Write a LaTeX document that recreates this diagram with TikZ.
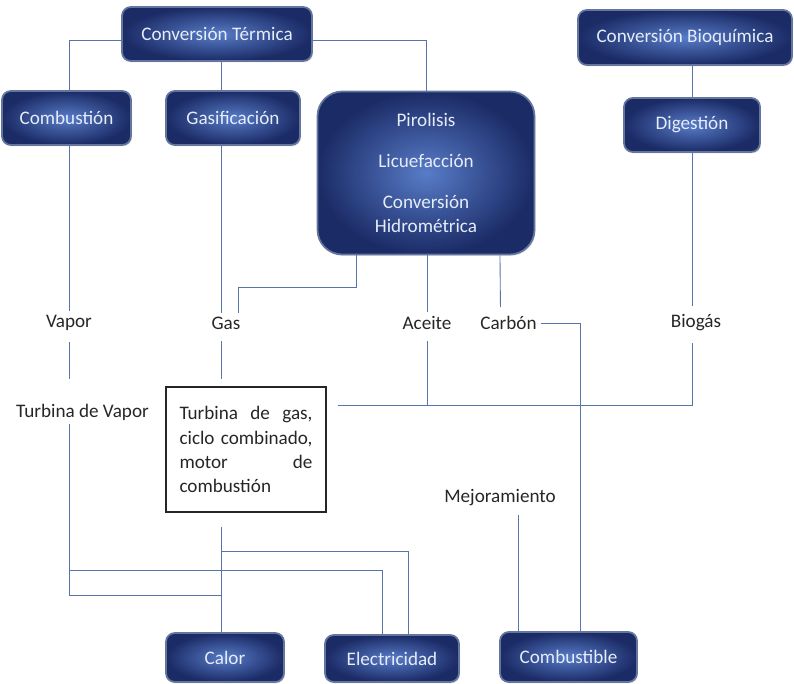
\documentclass[tikz,border=0pt]{standalone}
\usepackage{fontspec}
\setmainfont{Carlito}
\usetikzlibrary{positioning, shadows}

\definecolor{boxdark}{RGB}{27,43,102}
\definecolor{boxlight}{RGB}{88,124,200}
\definecolor{boxrim}{RGB}{100,118,158}
\definecolor{linkblue}{RGB}{88,116,170}
\definecolor{boxtext}{RGB}{230,236,248}

\tikzset{
    proc/.style={draw=boxrim, line width=1pt, rounded corners=5pt,
        shading=radial, inner color=boxlight, outer color=boxdark,
        text=boxtext, align=center,
        drop shadow={shadow xshift=0.6pt, shadow yshift=-0.8pt, opacity=0.2}},
    flow/.style={inner sep=2pt, text=black!85},
    link/.style={draw=linkblue, line width=0.5pt},
}

\begin{document}
\begin{tikzpicture}[x=0.02cm, y=-0.02cm, font=\fontsize{10.9}{13.7}\selectfont]
    \useasboundingbox (0,0) rectangle (794,683);

    % conversion boxes
    \node[proc, minimum width=3.8cm, minimum height=1.08cm] (termica) at (217,34) {Conversión Térmica};
    \node[proc, minimum width=2.58cm, minimum height=1.08cm] (combustion) at (66.5,118) {Combustión};
    \node[proc, minimum width=2.68cm, minimum height=1.08cm] (gasificacion) at (233,118) {Gasificación};
    \node[proc, minimum width=4.34cm, minimum height=3.26cm, rounded corners=14pt] (pirolisis) at (426,173)
        {Pirolisis\\[9.5pt]Licuefacción\\[9.5pt]Conversión\\Hidrométrica};
    \node[proc, minimum width=4.28cm, minimum height=1.1cm] (bioquimica) at (685,37.5) {Conversión Bioquímica};
    \node[proc, minimum width=2.72cm, minimum height=1.08cm] (digestion) at (692,125) {Digestión};

    % products
    \node[flow] (vapor) at (69,323) {Vapor};
    \node[flow] (gas) at (226,323) {Gas};
    \node[flow] (aceite) at (427,323) {Aceite};
    \node[flow] (carbon) at (508.5,323) {Carbón};
    \node[flow] (biogas) at (696,323) {Biogás};

    \node[flow] (tvapor) at (82.5,412) {Turbina de Vapor};
    \node[draw=black!85, line width=0.6pt, minimum width=3.2cm, minimum height=2.5cm,
        text width=2.66cm, align=left, text=black!85] (tgas) at (246,449.5)
        {Turbina\hfill de\hfill gas,\\ciclo\hfill combinado,\\motor\hfill de\\combustión};
    \node[flow] (mejora) at (500,498) {Mejoramiento};

    % final uses
    \node[proc, minimum width=2.36cm, minimum height=0.98cm] (calor) at (225,657.5) {Calor};
    \node[proc, minimum width=2.68cm, minimum height=0.94cm] (electricidad) at (392,658.5) {Electricidad};
    \node[proc, minimum width=2.74cm, minimum height=1.0cm] (combustible) at (568.5,657) {Combustible};

    \coordinate (colgas) at (221,0);
    \coordinate (jturb) at (338,405);
    \coordinate (jcalor) at (221,595);
    \coordinate (jelec) at (221,551);

    \draw[link] (termica.west |- 0,40) -| (vapor |- combustion.north);
    \draw[link] (termica.east |- 0,40) -| (pirolisis.north);
    \draw[link] (colgas |- termica.south) -- (colgas |- gasificacion.north);
    \draw[link] (bioquimica.south -| digestion) -- (digestion.north);

    \draw[link] (vapor |- combustion.south) -- (vapor.north);
    \draw[link] (colgas |- gasificacion.south) -- (colgas |- gas.north);
    \draw[link] ([xshift=-1.4cm]pirolisis.south) -- ++(0,32) -| ([xshift=0.24cm]gas.north);
    \draw[link] (aceite |- pirolisis.south) -- (aceite.north);
    \draw[link, shorten >=3pt] ([xshift=1.48cm]pirolisis.south) -- ([xshift=-0.16cm]carbon.north);
    \draw[link, shorten >=3pt] (digestion.south) -- (digestion.south |- biogas.north);

    \draw[link, shorten <=4.5pt, shorten >=12pt] (vapor.south) -- (vapor |- tvapor.north);
    \draw[link, shorten <=4.5pt, shorten >=4.5pt] (colgas |- gas.south) -- (colgas |- tgas.north);
    \draw[link, shorten <=4.5pt] (aceite.south) -- (aceite |- jturb);
    \draw[link, shorten <=4.5pt] (digestion.south |- biogas.south) |- (jturb);
    \draw[link] (carbon.east) -| ([xshift=0.24cm]combustible.north);
    \draw[link, shorten <=3pt] ([xshift=0.36cm]mejora.south) -- ([xshift=0.36cm]mejora.south |- combustible.north);

    \draw[link] (vapor |- tvapor.south) |- (jcalor);
    \draw[link] (vapor |- 0,570) -| ([xshift=-0.2cm]electricidad.north);
    \draw[link, shorten <=8pt] (colgas |- tgas.south) -- (colgas |- calor.north);
    \draw[link] (jelec) -| ([xshift=0.32cm]electricidad.north);
\end{tikzpicture}
\end{document}
